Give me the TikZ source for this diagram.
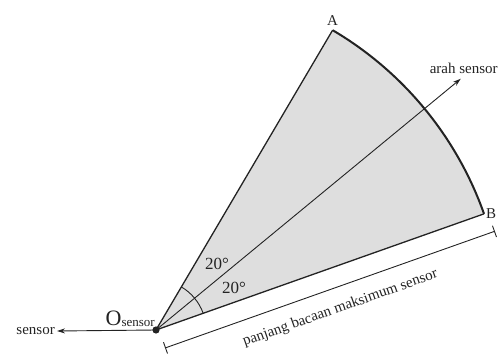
\documentclass[tikz,border=0pt]{standalone}
\usepackage{fontspec}
\setmainfont{Liberation Serif}
\usetikzlibrary{arrows.meta,calc}
\definecolor{sectorfill}{RGB}{222,222,222}
\definecolor{inkc}{RGB}{35,35,35}
\begin{document}
\begin{tikzpicture}[x=1pt,y=1pt,
  edge/.style={draw=inkc,line width=1.3pt},
  rim/.style={draw=inkc,line width=2pt},
  thin/.style={draw=inkc,line width=0.9pt},
  ptr/.style={draw=inkc,line width=0.9pt,-{Stealth[length=8pt,width=5pt]}},
  lbl/.style={inner sep=2pt,font=\fontsize{15}{17}\selectfont,text=inkc},
  anglbl/.style={inner sep=0pt,font=\fontsize{17}{19}\selectfont,text=inkc}
]
\useasboundingbox (-156,-24) rectangle (343,330);
\coordinate (O) at (0,0);
\coordinate (A) at (59.5:348);
\coordinate (B) at (19.5:348);
\coordinate (T) at (39.5:395);
% sector
\fill[sectorfill] (O) -- (B) arc[start angle=19.5,end angle=59.5,radius=348] -- cycle;
\draw[edge] (A) -- (O) -- (B);
\draw[rim] (B) arc[start angle=19.5,end angle=59.5,radius=348];
% sensor direction
\draw[ptr] (O) -- (T);
\node[lbl,anchor=south] (arah) at ($(T)+(3,3)$) {arah sensor};
% angle marks
\draw[thin] (59.5:50) arc[start angle=59.5,end angle=39.5,radius=50];
\draw[thin] (39.5:50) arc[start angle=39.5,end angle=19.5,radius=51];
\node[anglbl] (ang1) at (61,66) {20°};
\node[anglbl] (ang2) at (78,42) {20°};
% vertex labels
\node[lbl,anchor=south] (lA) at ($(A)+(0,2)$) {A};
\node[lbl,anchor=west,inner sep=1pt] (lB) at ($(B)+(1,0)$) {B};
% origin
\fill[inkc] (O) circle[radius=3.6];
\node[inner sep=0pt,anchor=base east,text=inkc] (lO) at (-1,5)
  {{\fontsize{22}{24}\selectfont O}\raisebox{-1.5pt}{\fontsize{13}{15}\selectfont sensor}};
\node[lbl,anchor=east] (sens) at (-99,-1) {sensor};
\draw[ptr] (O) -- (sens.east);
% dimension line
\coordinate (D1) at ($(O)+(19.5:3)+(-70.5:20)$);
\coordinate (D2) at ($(O)+(19.5:352)+(-70.5:20)$);
\draw[thin] (D1) -- (D2);
\draw[thin] ($(D1)+(-70.5:-6)$) -- ($(D1)+(-70.5:6)$);
\draw[thin] ($(D2)+(-70.5:-6)$) -- ($(D2)+(-70.5:6)$);
\node[lbl,rotate=19.5] (dim) at ($(O)+(19.5:181)+(-70.5:41)$) {panjang bacaan maksimum sensor};
\end{tikzpicture}
\end{document}
